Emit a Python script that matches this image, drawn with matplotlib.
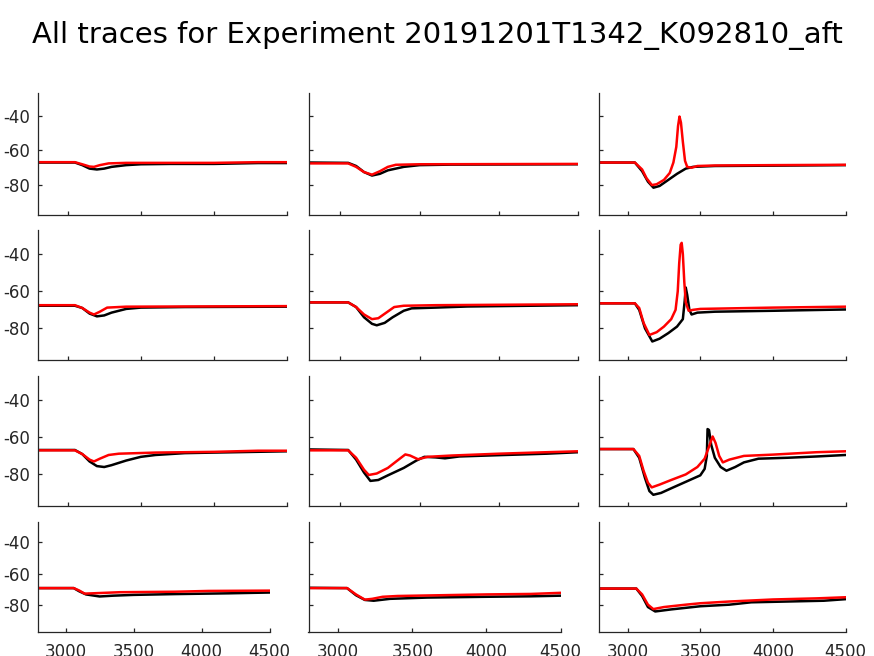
import matplotlib
matplotlib.use("Agg")
import matplotlib.pyplot as plt

plt.rcParams["font.family"] = "DejaVu Sans"
plt.rcParams["axes.unicode_minus"] = False

title = "All traces for Experiment 20191201T1342_K092810_aft"
xticks = [3000, 3500, 4000, 4500]
yticks = [-80, -60, -40]
xlim = (2800, 4500)
ylim = (-97, -27)

# row 1
r1c1_bx = [2800, 3050, 3100, 3150, 3200, 3250, 3300, 3400, 3500, 3700, 4000, 4300, 4500]
r1c1_by = [-67, -67, -68.5, -70.5, -71, -70.5, -69.5, -68.5, -68, -67.8, -67.8, -67.3, -67.3]
r1c1_rx = [2800, 3050, 3100, 3150, 3180, 3220, 3280, 3400, 4000, 4300, 4500]
r1c1_ry = [-66.8, -66.8, -68, -69.3, -69.5, -68.5, -67.5, -67.2, -67.2, -66.8, -66.8]

r1c2_bx = [2800, 3050, 3100, 3150, 3200, 3250, 3300, 3400, 3500, 3700, 4500]
r1c2_by = [-67, -67.2, -69, -72.5, -74.5, -73.5, -71.5, -69.5, -68.5, -68.2, -68]
r1c2_rx = [2800, 3050, 3100, 3150, 3200, 3250, 3300, 3350, 3500, 4500]
r1c2_ry = [-67.5, -67.5, -69.5, -72.5, -74, -72, -69.5, -68.3, -68, -67.8]

r1c3_bx = [2800, 3050, 3100, 3140, 3178, 3220, 3280, 3340, 3400, 3450, 3600, 4000, 4500]
r1c3_by = [-67, -67, -72, -78, -81.5, -80.5, -77, -73.5, -70.5, -69.5, -69, -68.8, -68.5]
r1c3_rx = [2800, 3050, 3100, 3130, 3167, 3200, 3250, 3290, 3315, 3335, 3347, 3357, 3367,
           3380, 3395, 3410, 3440, 3480, 3600, 4000, 4500]
r1c3_ry = [-67, -67, -71, -76, -80, -79.5, -77, -73, -67, -58, -46, -40.5, -44,
           -55, -66, -69.5, -70, -69, -68.7, -68.5, -68.3]

# row 2
r2c1_bx = [2800, 3050, 3100, 3150, 3200, 3250, 3300, 3400, 3500, 3800, 4500]
r2c1_by = [-67.8, -67.8, -69, -72, -73.5, -73, -71.5, -69.5, -68.8, -68.5, -68.3]
r2c1_rx = [2800, 3050, 3100, 3150, 3180, 3220, 3270, 3400, 4500]
r2c1_ry = [-67.5, -67.5, -69, -71.5, -72.5, -71, -68.8, -68.3, -68]

r2c2_bx = [2800, 3050, 3100, 3150, 3200, 3230, 3280, 3330, 3400, 3450, 3600, 3800, 4000, 4500]
r2c2_by = [-66, -66, -68.5, -74, -77.5, -78.3, -77, -74, -70.5, -69.2, -68.8, -68.2, -68, -67.5]
r2c2_rx = [2800, 3050, 3100, 3150, 3200, 3240, 3290, 3340, 3400, 3600, 4500]
r2c2_ry = [-66, -66, -68.5, -72.5, -75, -74.5, -71.5, -68.5, -67.8, -67.5, -67]

r2c3_bx = [2800, 3050, 3080, 3120, 3170, 3220, 3280, 3340, 3380, 3393, 3400, 3410, 3425,
           3440, 3480, 3600, 4000, 4500]
r2c3_by = [-66.5, -66.5, -70, -80, -87, -85.5, -82.5, -79, -75, -65, -58, -62, -70,
           -72.5, -71.5, -71, -70.5, -69.8]
r2c3_rx = [2800, 3050, 3080, 3110, 3150, 3200, 3250, 3300, 3330, 3345, 3355, 3365, 3372,
           3380, 3390, 3400, 3420, 3450, 3500, 4000, 4500]
r2c3_ry = [-66.5, -66.5, -69, -77, -83.5, -82, -79, -75, -70, -60, -45, -35, -34,
           -40, -55, -66, -70.5, -70, -69.5, -68.8, -68.3]

# row 3
r3c1_bx = [2800, 3050, 3100, 3150, 3200, 3250, 3300, 3400, 3500, 3600, 3800, 4000, 4500]
r3c1_by = [-66.8, -66.8, -69, -73, -75.5, -76, -75, -72.5, -70.5, -69.5, -68.5, -68.2, -67.5]
r3c1_rx = [2800, 3050, 3100, 3150, 3180, 3220, 3280, 3350, 3600, 4000, 4300, 4500]
r3c1_ry = [-67, -67, -69, -72, -73, -71.5, -69.5, -68.8, -68.2, -67.8, -67.2, -67.2]

r3c2_bx = [2800, 3050, 3100, 3150, 3190, 3240, 3300, 3400, 3480, 3530, 3600, 3660, 3750,
           4000, 4300, 4500]
r3c2_by = [-66.5, -66.8, -72, -79, -83.5, -83, -80.5, -76.5, -72.5, -70.5, -70.8, -71.3,
           -70.3, -69.6, -68.8, -68]
r3c2_rx = [2800, 3050, 3100, 3150, 3180, 3230, 3300, 3360, 3410, 3440, 3490, 3550, 3700,
           4000, 4300, 4500]
r3c2_ry = [-67, -67, -71, -77.5, -80.3, -79.5, -76.5, -72.5, -69.2, -69.8, -71.8, -70.5,
           -69.8, -68.8, -68, -67.5]

r3c3_bx = [2800, 3040, 3080, 3120, 3150, 3177, 3230, 3300, 3400, 3500, 3530, 3545, 3550,
           3560, 3575, 3600, 3640, 3680, 3740, 3800, 3900, 4100, 4300, 4500]
r3c3_by = [-66.3, -66.3, -71, -82, -89, -91, -90, -87.5, -84, -80.5, -77, -70, -55.5,
           -56, -64, -71, -76, -78, -76, -73.5, -71.5, -71, -70.3, -69.5]
r3c3_rx = [2800, 3040, 3080, 3110, 3140, 3166, 3220, 3300, 3400, 3480, 3530, 3560, 3585,
           3605, 3630, 3655, 3700, 3800, 4000, 4300, 4500]
r3c3_ry = [-66.3, -66.3, -70, -78, -84.5, -87, -85.5, -83, -80, -76, -71.5, -65, -59.5,
           -63, -70, -73.5, -72, -70, -69.3, -68, -67.5]

# row 4
r4c1_bx = [2800, 3060, 3100, 3150, 3250, 3350, 3500, 3800, 4200, 4500]
r4c1_by = [-69, -69, -71, -73, -74.3, -73.8, -73.3, -72.8, -72.3, -71.8]
r4c1_rx = [2800, 3060, 3100, 3140, 3200, 3400, 3800, 4050, 4500]
r4c1_ry = [-69, -69, -70.5, -72.5, -72.3, -71.6, -71.3, -70.8, -70.6]

r4c2_bx = [2800, 3060, 3120, 3180, 3240, 3350, 3600, 4000, 4300, 4500]
r4c2_by = [-68.8, -69, -73.5, -76.5, -77, -75.8, -75, -74.5, -74.2, -73.8]
r4c2_rx = [2800, 3060, 3120, 3180, 3230, 3300, 3400, 3700, 4000, 4300, 4500]
r4c2_ry = [-69, -69, -73, -76.3, -75.8, -74.5, -74, -73.5, -73, -72.7, -72]

r4c3_bx = [2800, 3060, 3100, 3140, 3190, 3300, 3500, 3700, 3850, 4100, 4350, 4500]
r4c3_by = [-69.3, -69.3, -74, -81, -83.8, -82.5, -80.5, -79.5, -78, -77.5, -77, -76]
r4c3_rx = [2800, 3060, 3100, 3140, 3177, 3250, 3400, 3500, 3700, 4000, 4300, 4500]
r4c3_ry = [-69.3, -69.3, -73, -79.5, -82.3, -81, -79.5, -78.6, -77.5, -76.2, -75.5, -74.8]

panels = [
    [(r1c1_bx, r1c1_by, r1c1_rx, r1c1_ry), (r1c2_bx, r1c2_by, r1c2_rx, r1c2_ry), (r1c3_bx, r1c3_by, r1c3_rx, r1c3_ry)],
    [(r2c1_bx, r2c1_by, r2c1_rx, r2c1_ry), (r2c2_bx, r2c2_by, r2c2_rx, r2c2_ry), (r2c3_bx, r2c3_by, r2c3_rx, r2c3_ry)],
    [(r3c1_bx, r3c1_by, r3c1_rx, r3c1_ry), (r3c2_bx, r3c2_by, r3c2_rx, r3c2_ry), (r3c3_bx, r3c3_by, r3c3_rx, r3c3_ry)],
    [(r4c1_bx, r4c1_by, r4c1_rx, r4c1_ry), (r4c2_bx, r4c2_by, r4c2_rx, r4c2_ry), (r4c3_bx, r4c3_by, r4c3_rx, r4c3_ry)],
]

W, H = 874, 656
# axes boxes in pixels (left, right) per column and (top, bottom) per row
cols_top = [(38.3, 287.3), (308.5, 578.3), (598.5, 845.7)]
cols_bottom = [(38.3, 269.7), (308.5, 560.5), (598.5, 845.7)]
rows = [(93.1, 214.6), (229.8, 360.1), (376.3, 505.9), (521.8, 632.3)]

fig = plt.figure(figsize=(W / 100, H / 100), dpi=100)
grey = "#262626"

for i, row in enumerate(panels):
    for j, (bx, by, rx, ry) in enumerate(row):
        x0, x1 = (cols_bottom if i == 3 else cols_top)[j]
        y0, y1 = rows[i]
        ax = fig.add_axes([x0 / W, 1 - y1 / H, (x1 - x0) / W, (y1 - y0) / H])
        ax.plot(bx, by, color="k", lw=1.8)
        ax.plot(rx, ry, color="r", lw=1.8)
        ax.set_xlim(*xlim)
        ax.set_ylim(*ylim)
        ax.set_xticks(xticks)
        ax.set_yticks(yticks)
        for s in ["top", "right"]:
            ax.spines[s].set_visible(False)
        for s in ["left", "bottom"]:
            ax.spines[s].set_color(grey)
            ax.spines[s].set_linewidth(0.9)
        ax.tick_params(direction="in", length=3, width=0.9, color=grey,
                       labelcolor=grey, labelsize=12)
        ax.tick_params(axis="y", pad=6)
        ax.tick_params(axis="x", pad=8)
        if i != 3:
            ax.set_xticklabels([])
        if j != 0:
            ax.set_yticklabels([])

fig.text(0.5, 1 - 35 / H, title, ha="center", va="center", fontsize=21)
fig.savefig("out.png", dpi=100)
